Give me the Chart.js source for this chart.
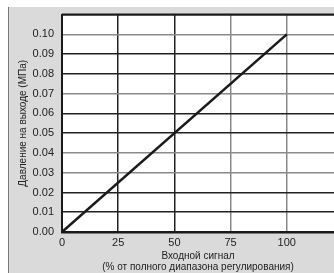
<!DOCTYPE html>
<html>
<head>
<meta charset="utf-8">
<script src="https://cdn.jsdelivr.net/npm/chart.js@4"></script>
<style>
  html, body { margin: 0; padding: 0; background: #fff; }
  #wrap { width: 334px; height: 273px; }
</style>
</head>
<body>
<div id="wrap"><canvas id="chart" width="334" height="273"></canvas></div>
<script>
// Данные графика
const signalPercent = [0, 100];
const outputPressure = [0, 0.10];
const xTicks = [0, 25, 50, 75, 100];
const yAxisTitle = 'Давление на выходе (МПа)';
const xAxisTitle = ['Входной сигнал', '(% от полного диапазона регулирования)'];

// линии сетки на скане то серые, то тёмные
const grayY = [0.10, 0.07, 0.04, 0.03];
const grayX = [75, 100];

const panelBg = {
  id: 'panelBg',
  beforeDraw(chart) {
    const c = chart.ctx;
    const a = chart.chartArea;
    c.save();
    c.fillStyle = '#dadada';
    c.fillRect(8, 7, chart.width - 8, chart.height - 7);
    c.fillStyle = '#ffffff';
    c.fillRect(a.left, a.top, a.right - a.left, a.bottom - a.top);
    c.strokeStyle = '#777';
    c.lineWidth = 1;
    c.beginPath();
    c.moveTo(8.5, 7);
    c.lineTo(8.5, chart.height);
    c.stroke();
    c.restore();
  },
  afterDraw(chart) {
    const c = chart.ctx;
    const a = chart.chartArea;
    c.save();
    c.strokeStyle = '#1a1a1a';
    c.lineWidth = 2;
    c.beginPath();
    c.moveTo(a.left, a.top);
    c.lineTo(a.right, a.top);
    c.stroke();
    c.restore();
  }
};

new Chart(document.getElementById('chart'), {
  type: 'line',
  data: {
    datasets: [{
      data: signalPercent.map((x, i) => ({ x: x, y: outputPressure[i] })),
      borderColor: '#1a1a1a',
      borderWidth: 2.5,
      pointRadius: 0,
      tension: 0
    }]
  },
  options: {
    responsive: false,
    animation: false,
    layout: { padding: { left: 13, top: 7, right: 0, bottom: 0 } },
    plugins: { legend: { display: false }, tooltip: { enabled: false } },
    scales: {
      x: {
        type: 'linear',
        min: 0,
        max: 121,
        afterBuildTicks: (s) => { s.ticks = xTicks.map(v => ({ value: v })); },
        afterFit: (s) => { s.height = 41; },
        grid: {
          drawTicks: false,
          lineWidth: 1.5,
          color: (ctx) => grayX.includes(ctx.tick && ctx.tick.value) ? '#8a8a8a' : '#222'
        },
        border: { color: '#1a1a1a', width: 2.5 },
        ticks: {
          padding: 4,
          color: '#222',
          maxRotation: 0,
          font: { family: 'Liberation Sans', size: 11 }
        },
        title: {
          display: true,
          text: xAxisTitle,
          color: '#222',
          padding: { top: 0, bottom: 0 },
          font: { family: 'Liberation Sans', size: 10, lineHeight: 1.1 }
        }
      },
      y: {
        min: 0,
        max: 0.11,
        afterFit: (s) => { s.width = 49; },
        grid: {
          drawTicks: false,
          lineWidth: 1.5,
          color: (ctx) => {
            const v = ctx.tick ? Math.round(ctx.tick.value * 100) / 100 : 0;
            return grayY.includes(v) ? '#8a8a8a' : '#222';
          }
        },
        border: { color: '#1a1a1a', width: 2 },
        ticks: {
          stepSize: 0.01,
          padding: 8,
          color: '#222',
          font: { family: 'Liberation Sans', size: 11 },
          callback: (v) => v > 0.105 ? '' : v.toFixed(2)
        },
        title: {
          display: true,
          text: yAxisTitle,
          color: '#222',
          padding: { top: 4, bottom: 0 },
          font: { family: 'Liberation Sans', size: 10 }
        }
      }
    }
  },
  plugins: [panelBg]
});
</script>
</body>
</html>
